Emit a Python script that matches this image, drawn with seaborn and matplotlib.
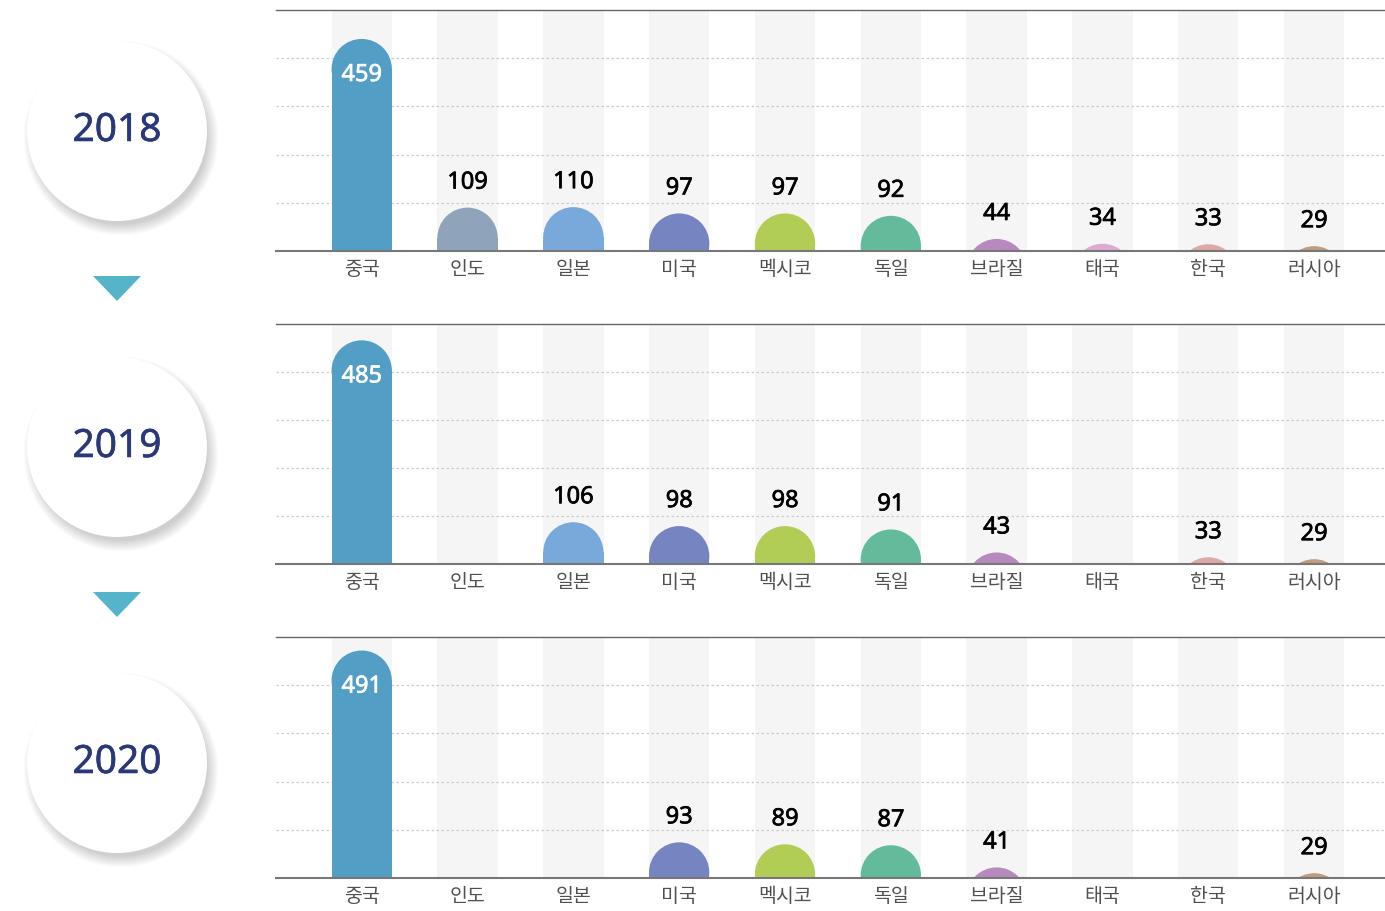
import numpy as np
import pandas as pd
import seaborn as sns
import matplotlib.pyplot as plt
import matplotlib.patheffects as pe
from matplotlib.patches import Ellipse, Circle, Polygon

# dados
paises = ['중국', '인도', '일본', '미국', '멕시코', '독일', '브라질', '태국', '한국', '러시아']
anos = ['2018', '2019', '2020']
v2018 = [459, 109, 110, 97, 97, 92, 44, 34, 33, 29]
v2019 = [485, np.nan, 106, 98, 98, 91, 43, np.nan, 33, 29]
v2020 = [491, np.nan, np.nan, 93, 89, 87, 41, np.nan, np.nan, 29]
valores = [v2018, v2019, v2020]

cores = ['#539ec5', '#8fa3bb', '#79a8da', '#7684c1', '#b2cd56',
         '#63bb9b', '#b789bf', '#dcaad2', '#dfa8a5', '#c29b7b']
paleta = dict(zip(paises, cores))

sns.set_style('white')
plt.rcParams['font.family'] = ['Noto Sans CJK KR', 'DejaVu Sans']

W, H = 1385, 911
fig = plt.figure(figsize=(W / 100, H / 100), dpi=100)

# fundo com os circulos dos anos
bg = fig.add_axes([0, 0, 1, 1])
bg.set_xlim(0, W)
bg.set_ylim(H, 0)
bg.axis('off')

centros_y = [131, 447, 763]
for ano, cy in zip(anos, centros_y):
    for i in range(24):
        bg.add_patch(Circle((121, cy + 7), 86 + i * 0.5, color='#707070',
                            alpha=0.01, lw=0))
    bg.add_patch(Circle((117, cy), 90, color='white', lw=0))
    bg.text(117, cy, ano, ha='center', va='center', fontsize=28,
            color='#283879', family=['Noto Sans', 'DejaVu Sans'],
            path_effects=[pe.withStroke(linewidth=0.4, foreground='#283879')])

for ty in [276, 592]:
    bg.add_patch(Polygon([[93, ty], [141, ty], [117, ty + 25]],
                         closed=True, color='#55b4ca', lw=0))

# paineis
piso = 19
tops = [10, 324, 637]
bases = [251, 564, 878]
largura = 0.57
fonte_num = ['Noto Sans', 'DejaVu Sans']

for vals, top, base in zip(valores, tops, bases):
    ax = fig.add_axes([276 / W, (H - base) / H, (W - 276) / W, (base - top) / H])
    df = pd.DataFrame({'Pais': paises, 'Valor': vals}).dropna()
    sns.barplot(data=df, x='Pais', y='Valor', hue='Pais', order=paises,
                hue_order=paises, palette=paleta, dodge=False, width=largura,
                saturation=1, legend=False, ax=ax, zorder=3)
    ax.set_xlim(-0.81, 9.67)
    ax.set_ylim(piso, 500 + piso)

    # arredondar o topo das barras
    fig_w = ax.get_position().width * W
    fig_h = ax.get_position().height * H
    px_x = fig_w / (ax.get_xlim()[1] - ax.get_xlim()[0])
    px_y = fig_h / (ax.get_ylim()[1] - ax.get_ylim()[0])
    barras = list(ax.patches)
    for p in barras:
        v = p.get_height()
        if not np.isfinite(v):
            continue
        w = p.get_width()
        xc = p.get_x() + w / 2
        ry = (w / 2) * px_x / px_y
        p.set_height(max(v - ry, 0))
        p.set_linewidth(0)
        ax.add_patch(Ellipse((xc, v - ry), w, 2 * ry,
                             facecolor=p.get_facecolor(), lw=0, zorder=3))
        if v > 300:
            cor, dy = 'white', -26
        else:
            cor, dy = 'black', 18
        ax.annotate(f'{v:.0f}', (xc, v), xytext=(0, dy),
                    textcoords='offset points', ha='center', va='center',
                    fontsize=17, color=cor, family=fonte_num, zorder=5,
                    path_effects=[pe.withStroke(linewidth=0.5, foreground=cor)])

    # colunas cinzentas de fundo
    for i in range(len(paises)):
        ax.axvspan(i - largura / 2, i + largura / 2, color='#f5f5f5',
                   lw=0, zorder=0)

    ax.set_yticks([piso + 100 * k for k in range(1, 5)])
    ax.set_yticklabels([])
    ax.yaxis.grid(True, color='#cccccc', linestyle=(0, (2, 2)), lw=0.9)
    ax.set_axisbelow(True)
    ax.tick_params(axis='both', length=0)
    ax.tick_params(axis='x', pad=6, labelsize=14, labelcolor='#505050')
    ax.set_xlabel('')
    ax.set_ylabel('')
    for s in ['left', 'right']:
        ax.spines[s].set_visible(False)
    ax.spines['top'].set_color('#666666')
    ax.spines['top'].set_linewidth(1)
    ax.spines['bottom'].set_color('#777777')
    ax.spines['bottom'].set_linewidth(1.5)
    ax.spines['bottom'].set_zorder(6)
    ax.set_facecolor('white')

fig.savefig('out.png', dpi=100)
